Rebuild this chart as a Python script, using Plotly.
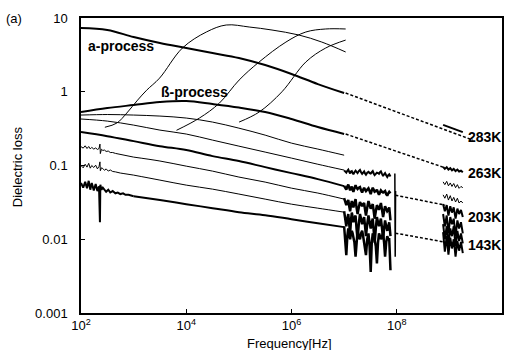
import math
import plotly.graph_objects as go

# ---------------- data ----------------
freq_grid = [1e2, 3.16e2, 1e3, 3.16e3, 1e4, 3.16e4, 1e5, 3.16e5, 1e6, 3.16e6, 1e7]
loss_283 = [7.31, 6.87, 5.52, 4.58, 3.92, 3.35, 2.87, 2.30, 1.74, 1.27, 0.96]
loss_263 = [0.531, 0.601, 0.661, 0.725, 0.748, 0.681, 0.611, 0.531, 0.427, 0.332, 0.267]
loss_243 = [0.483, 0.491, 0.483, 0.468, 0.44, 0.388, 0.321, 0.258, 0.201, 0.167, 0.138]
loss_223 = [0.427, 0.40, 0.353, 0.302, 0.267, 0.221, 0.183, 0.152, 0.126, 0.104, 0.0867]
loss_203 = [0.284, 0.25, 0.214, 0.183, 0.162, 0.134, 0.115, 0.095, 0.0788, 0.0654, 0.0525]

freq_mid = [1e3, 3.16e3, 1e4, 3.16e4, 1e5, 3.16e5, 1e6, 3.16e6, 1e7]
loss_183_mid = [0.130, 0.115, 0.098, 0.0839, 0.0697, 0.0596, 0.0493, 0.0423, 0.035]
loss_163_mid = [0.0741, 0.0634, 0.0542, 0.0478, 0.041, 0.035, 0.0299, 0.0264, 0.0233]
loss_143_mid = [0.0384, 0.034, 0.0299, 0.0264, 0.0233, 0.0212, 0.0187, 0.0165, 0.0146]

freq_low = [100, 110, 120, 130, 140, 150, 160, 175, 190, 205, 220, 229, 233, 245, 260,
            280, 300, 330, 360, 400, 450, 500, 560, 630, 700, 800, 900, 1000]
loss_183_low = [0.180, 0.172, 0.185, 0.170, 0.181, 0.168, 0.176, 0.167, 0.173, 0.165, 0.170,
                0.195, 0.145, 0.166, 0.160, 0.162, 0.155, 0.157, 0.150, 0.150, 0.146, 0.144,
                0.141, 0.139, 0.137, 0.134, 0.132, 0.130]
loss_163_low = [0.100, 0.093, 0.104, 0.095, 0.107, 0.092, 0.100, 0.094, 0.101, 0.090, 0.097,
                0.112, 0.085, 0.093, 0.091, 0.086, 0.090, 0.084, 0.087, 0.083, 0.082, 0.080,
                0.079, 0.078, 0.077, 0.076, 0.075, 0.0741]
loss_143_low = [0.058, 0.050, 0.060, 0.049, 0.062, 0.047, 0.058, 0.046, 0.056, 0.045, 0.052,
                0.017, 0.055, 0.047, 0.050, 0.047, 0.044, 0.047, 0.043, 0.045, 0.042, 0.043,
                0.041, 0.042, 0.040, 0.040, 0.039, 0.0384]

# alpha-relaxation peaks at higher temperatures (thin)
freq_p1 = [284, 479, 741, 1190, 1770, 3110, 8470, 2.41e4, 5.75e4, 1.57e5, 4.26e5, 1.38e6, 3.76e6, 1.07e7]
loss_p1 = [0.33, 0.376, 0.514, 0.77, 1.05, 1.53, 3.92, 6.46, 8.04, 7.55, 6.87, 5.88, 4.72, 3.46]
freq_p2 = [6530, 1.78e4, 4.25e4, 1.01e5, 2.42e5, 7.84e5, 1.87e6, 4.47e6, 1.07e7]
loss_p2 = [0.30, 0.44, 0.70, 1.44, 2.53, 4.72, 6.46, 7.1, 7.1]
freq_p3 = [1.01e5, 2.42e5, 6.59e5, 1.87e6, 4.47e6, 1.07e7]
loss_p3 = [0.388, 0.53, 1.0, 2.53, 3.92, 5.02]

# noisy band 10^7 - 10^8
freq_hf = [1.0e7, 1.05e7, 1.1e7, 1.15e7, 1.2e7, 1.25e7, 1.3e7, 1.35e7, 1.4e7, 1.45e7, 1.5e7, 1.57e7,
           1.65e7, 1.72e7, 1.8e7, 1.9e7, 2.0e7, 2.1e7, 2.2e7, 2.3e7, 2.4e7, 2.5e7, 2.6e7, 2.75e7,
           2.9e7, 3.05e7, 3.2e7, 3.35e7, 3.5e7, 3.65e7, 3.8e7, 4.0e7, 4.2e7, 4.4e7, 4.6e7, 4.8e7,
           5.0e7, 5.25e7, 5.5e7, 5.75e7, 6.0e7, 6.3e7, 6.6e7, 6.9e7, 7.2e7, 7.6e7]
loss_223_hf = [0.086, 0.081, 0.080, 0.085, 0.088, 0.082, 0.078, 0.083, 0.084, 0.079, 0.076, 0.081,
               0.085, 0.082, 0.079, 0.084, 0.087, 0.081, 0.077, 0.080, 0.083, 0.078, 0.075, 0.080,
               0.082, 0.079, 0.078, 0.081, 0.084, 0.078, 0.074, 0.077, 0.080, 0.079, 0.077, 0.081,
               0.083, 0.077, 0.072, 0.076, 0.079, 0.074, 0.070, 0.074, 0.076, 0.071]
loss_203_hf = [0.053, 0.049, 0.047, 0.052, 0.055, 0.050, 0.046, 0.049, 0.052, 0.047, 0.044, 0.049,
               0.054, 0.050, 0.048, 0.050, 0.051, 0.046, 0.043, 0.047, 0.050, 0.047, 0.045, 0.047,
               0.049, 0.045, 0.041, 0.046, 0.050, 0.047, 0.044, 0.045, 0.047, 0.043, 0.040, 0.043,
               0.046, 0.044, 0.043, 0.044, 0.045, 0.041, 0.039, 0.042, 0.044, 0.042]
loss_183_hf = [0.036, 0.031, 0.029, 0.032, 0.034, 0.028, 0.024, 0.029, 0.033, 0.030, 0.027, 0.031,
               0.035, 0.027, 0.022, 0.027, 0.032, 0.030, 0.028, 0.030, 0.031, 0.025, 0.021, 0.027,
               0.033, 0.029, 0.026, 0.028, 0.030, 0.024, 0.019, 0.024, 0.029, 0.027, 0.025, 0.028,
               0.031, 0.025, 0.020, 0.024, 0.028, 0.026, 0.024, 0.025, 0.027, 0.018]
loss_163_hf = [0.024, 0.019, 0.015, 0.019, 0.022, 0.016, 0.012, 0.018, 0.023, 0.020, 0.017, 0.019,
               0.021, 0.014, 0.010, 0.016, 0.022, 0.019, 0.016, 0.018, 0.020, 0.015, 0.011, 0.016,
               0.021, 0.017, 0.014, 0.017, 0.019, 0.013, 0.009, 0.014, 0.020, 0.017, 0.015, 0.017,
               0.019, 0.014, 0.010, 0.014, 0.018, 0.015, 0.013, 0.015, 0.017, 0.011]
loss_143_hf = [0.015, 0.010, 0.0061, 0.011, 0.014, 0.012, 0.010, 0.012, 0.013, 0.012, 0.011, 0.009,
               0.0058, 0.010, 0.013, 0.011, 0.010, 0.012, 0.013, 0.011, 0.009, 0.008, 0.0061, 0.010,
               0.012, 0.008, 0.0036, 0.009, 0.012, 0.011, 0.010, 0.008, 0.0047, 0.009, 0.012, 0.011,
               0.010, 0.011, 0.012, 0.009, 0.0058, 0.009, 0.011, 0.010, 0.010, 0.0038]
freq_spike = [9.2e7, 9.35e7, 9.5e7]
loss_spike = [0.078, 0.0058, 0.045]

# GHz data cluster
freq_ghz = [7.6e8, 8.2e8, 8.9e8, 9.6e8, 1.04e9, 1.12e9, 1.21e9, 1.31e9, 1.42e9, 1.53e9, 1.66e9, 1.8e9]
loss_263_ghz = [0.096, 0.090, 0.095, 0.088, 0.092, 0.086, 0.090, 0.084, 0.088, 0.083, 0.085, 0.081]
loss_243_ghz = [0.060, 0.055, 0.061, 0.053, 0.058, 0.052, 0.057, 0.050, 0.055, 0.049, 0.052, 0.050]
loss_223_ghz = [0.040, 0.036, 0.041, 0.034, 0.039, 0.033, 0.037, 0.032, 0.036, 0.031, 0.033, 0.031]
loss_203_ghz = [0.030, 0.024, 0.029, 0.021, 0.028, 0.023, 0.027, 0.019, 0.026, 0.022, 0.025, 0.020]
loss_183_ghz = [0.022, 0.015, 0.021, 0.012, 0.020, 0.016, 0.019, 0.011, 0.018, 0.014, 0.017, 0.012]
loss_163_ghz = [0.016, 0.010, 0.015, 0.0085, 0.014, 0.011, 0.015, 0.0080, 0.013, 0.0095, 0.012, 0.0088]
loss_143_ghz = [0.0125, 0.0068, 0.011, 0.0062, 0.0105, 0.0075, 0.0100, 0.0058, 0.0095, 0.0070, 0.0092, 0.0065]
freq_283_ghz = [7.6e8, 1.2e9, 1.8e9]
loss_283_ghz = [0.355, 0.315, 0.284]

# dashed extrapolations [start, end]
dash_283 = ([1.07e7, 2.8e9], [0.96, 0.221])
dash_263 = ([1.07e7, 7.6e8], [0.267, 0.095])
dash_203 = ([9.4e7, 8.3e8], [0.0396, 0.029])
dash_143 = ([9.4e7, 8.3e8], [0.0121, 0.00914])

temp_labels = ["283K", "263K", "203K", "143K"]
temp_label_y = [0.243, 0.0788, 0.020, 0.0083]

x_tickvals = [1e2, 1e4, 1e6, 1e8, 1e10]
x_ticktext = ["10<sup>2</sup>", "10<sup>4</sup>", "10<sup>6</sup>", "10<sup>8</sup>", "10<sup>10</sup>"]
y_tickvals = [0.001, 0.01, 0.1, 1, 10]
y_ticktext = ["0.001", "0.01", "0.1", "1", "10"]

# ---------------- figure ----------------
fig = go.Figure()
THICK, THIN = 2.0, 1.0


def add(x, y, w, shape="linear", dash=None):
    fig.add_trace(go.Scatter(x=x, y=y, mode="lines", showlegend=False, hoverinfo="skip",
                             line=dict(color="black", width=w, shape=shape,
                                       dash=dash if dash else "solid")))


# smooth curves
add(freq_grid, loss_283, THICK, "spline")
add(freq_grid, loss_263, THICK, "spline")
add(freq_grid, loss_243, THIN, "spline")
add(freq_grid, loss_223, THIN, "spline")
add(freq_grid, loss_203, THICK, "spline")
add(freq_mid, loss_183_mid, THIN, "spline")
add(freq_mid, loss_163_mid, THIN, "spline")
add(freq_mid, loss_143_mid, THICK, "spline")
add(freq_low, loss_183_low, THIN)
add(freq_low, loss_163_low, THIN)
add(freq_low, loss_143_low, THICK)
add(freq_p1, loss_p1, THIN, "spline")
add(freq_p2, loss_p2, THIN, "spline")
add(freq_p3, loss_p3, THIN, "spline")

# noisy high-frequency band
add(freq_hf, loss_223_hf, THICK)
add(freq_hf, loss_203_hf, 2.5)
add(freq_hf, loss_183_hf, 2.5)
add(freq_hf, loss_163_hf, 2.5)
add(freq_hf, loss_143_hf, 2.5)
add(freq_spike, loss_spike, 1.5)

# GHz cluster
add(freq_283_ghz, loss_283_ghz, THICK)
for arr, w in [(loss_263_ghz, THICK), (loss_243_ghz, THIN), (loss_223_ghz, THIN),
               (loss_203_ghz, THICK), (loss_183_ghz, THICK), (loss_163_ghz, THICK),
               (loss_143_ghz, THICK)]:
    add(freq_ghz, arr, w)

# dashed lines
for dx, dy in [dash_283, dash_263, dash_203, dash_143]:
    add(dx, dy, 1.5, dash="3px,2px")

bold = dict(family="Liberation Sans, Arial", size=14, color="black")
# annotations on log axes take log10 positions
for lab, yv in zip(temp_labels, temp_label_y):
    fig.add_annotation(x=1.0, y=math.log10(yv), xref="paper", yref="y",
                       text="<b>%s</b>" % lab, showarrow=False, xanchor="right",
                       yanchor="middle", font=bold, borderpad=0)

fig.add_annotation(x=math.log10(124), y=math.log10(4.17), xref="x", yref="y",
                   text="<b>a-process</b>", showarrow=False, xanchor="left",
                   yanchor="middle", font=bold)
fig.add_annotation(x=math.log10(3100), y=math.log10(1.0), xref="x", yref="y",
                   text="<b>ß-process</b>", showarrow=False, xanchor="left",
                   yanchor="middle", font=bold)

plain = dict(family="Liberation Sans, Arial", size=13, color="black")
fig.add_annotation(x=0.496, y=-0.102, xref="paper", yref="paper", text="Frequency[Hz]",
                   showarrow=False, xanchor="center", yanchor="middle", font=plain)
fig.add_annotation(x=-0.149, y=0.495, xref="paper", yref="paper", text="Dielectric loss",
                   showarrow=False, xanchor="center", yanchor="middle", textangle=-90, font=plain)
fig.add_annotation(x=-0.158, y=1.0, xref="paper", yref="paper", text="(a)",
                   showarrow=False, xanchor="center", yanchor="middle", font=plain)

axis_common = dict(type="log", showgrid=False, zeroline=False, showline=True, mirror=True,
                   linecolor="black", linewidth=1.5, ticks="inside", ticklen=4, tickwidth=1,
                   tickcolor="black", tickfont=plain)
fig.update_xaxes(range=[2, 10], tickvals=x_tickvals, ticktext=x_ticktext, **axis_common)
fig.update_yaxes(range=[-3, 1], tickvals=y_tickvals, ticktext=y_ticktext,
                 ticklabelstandoff=9, **axis_common)

fig.update_layout(width=507, height=350, margin=dict(l=81, r=3, t=18, b=37),
                  paper_bgcolor="white", plot_bgcolor="white",
                  font=dict(family="Liberation Sans, Arial", size=13, color="black"))

fig.write_html("out.html")
